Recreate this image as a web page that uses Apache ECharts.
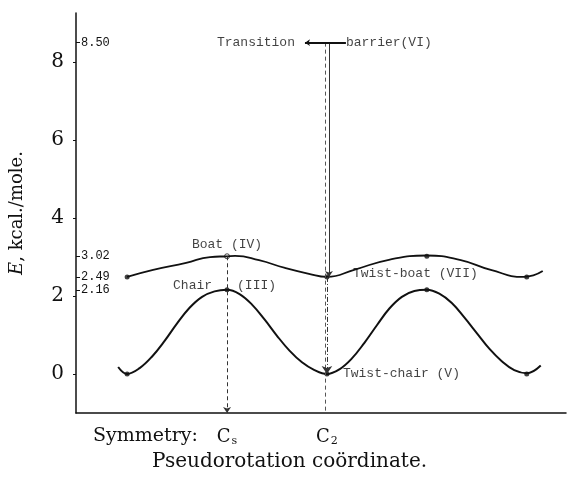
<!DOCTYPE html>
<html>
<head>
<meta charset="utf-8">
<script src="https://cdn.jsdelivr.net/npm/echarts@6/dist/echarts.min.js"></script>
<style>
  html, body { margin: 0; background: #fff; }
  #main { width: 567px; height: 479px; }
</style>
</head>
<body>
<div id="main"></div>
<script>
// pseudorotation coordinate (Cs = 1, C2 = 2) and energy, kcal/mole
var chairX = [-0.09, 0, 0.125, 0.25, 0.375, 0.5, 0.625, 0.75, 0.875, 1.0, 1.125, 1.25, 1.375, 1.5, 1.625, 1.75, 1.875, 2.0,
              2.125, 2.25, 2.375, 2.5, 2.625, 2.75, 2.875, 3.0, 3.125, 3.25, 3.375, 3.5, 3.625, 3.75, 3.875, 4.0, 4.14];
var chairE = [0.18, 0, 0.15, 0.45, 0.85, 1.3, 1.7, 1.98, 2.12, 2.16, 2.05, 1.78, 1.4, 0.98, 0.6, 0.3, 0.1, 0,
              0.12, 0.4, 0.8, 1.25, 1.68, 1.98, 2.13, 2.16, 2.06, 1.82, 1.45, 1.05, 0.65, 0.33, 0.1, 0.02, 0.22];
var boatX = [0, 0.26, 0.59, 0.83, 1.0, 1.08, 1.32, 1.58, 1.82, 2.0, 2.28, 2.62, 3.0, 3.34, 3.64, 3.97, 4.16];
var boatE = [2.49, 2.67, 2.85, 3.0, 3.02, 3.03, 2.92, 2.72, 2.57, 2.49, 2.68, 2.93, 3.04, 2.92, 2.67, 2.49, 2.64];
var markX = [0, 1, 2, 3, 4];
var chairMarkE = [0, 2.16, 0, 2.16, 0];
var boatMarkE = [2.49, 3.02, 2.49, 3.02, 2.49];
var barrierE = 8.5;
var barrierX = [1.78, 2.19];
var symX = [1, 2];
var symLabels = ['{c|C}{s|s}', '{c|C}{s|2}'];
var yTicks = [0, 2, 4, 6, 8];
var levelTicks = [8.5, 3.02, 2.49, 2.16];

var mono = '"Liberation Mono", "DejaVu Sans Mono", monospace';
var serif = '"DejaVu Serif", "Liberation Serif", serif';

function pts(xs, ys) {
  return xs.map(function (x, i) { return [x, ys[i]]; });
}

var chart = echarts.init(document.getElementById('main'));

var option = {
  animation: false,
  grid: { left: 73, right: 1, top: 13, bottom: 66 },
  xAxis: {
    type: 'value',
    min: -0.512,
    max: 4.393,
    splitLine: { show: false },
    axisLine: { onZero: false, lineStyle: { color: '#111', width: 1.5 } },
    axisTick: { show: false },
    axisLabel: {
      customValues: symX,
      margin: 14,
      formatter: function (v) { return symLabels[symX.indexOf(v)]; },
      rich: {
        c: { fontFamily: serif, fontSize: 18, color: '#111' },
        s: { fontFamily: serif, fontSize: 11, color: '#111', padding: [9, 0, 0, 1] }
      }
    }
  },
  yAxis: [{
    type: 'value',
    min: -1,
    max: 9.26,
    splitLine: { show: false },
    axisLine: { show: true, onZero: false, lineStyle: { color: '#111', width: 1.5 } },
    axisTick: { show: true, customValues: yTicks, length: 3, lineStyle: { color: '#111' } },
    axisLabel: { customValues: yTicks, margin: 12, fontFamily: serif, fontSize: 20, color: '#111' },
    name: '{i|E}, kcal./mole.',
    nameLocation: 'middle',
    nameRotate: 90,
    nameGap: 50,
    nameTextStyle: {
      fontFamily: serif, fontSize: 18, color: '#111',
      rich: { i: { fontFamily: serif, fontSize: 18, fontStyle: 'italic', color: '#111' } }
    }
  }, {
    type: 'value',
    min: -1,
    max: 9.26,
    position: 'left',
    splitLine: { show: false },
    axisLine: { show: false, onZero: false },
    axisTick: { show: true, inside: true, customValues: levelTicks, length: 4, lineStyle: { color: '#111' } },
    axisLabel: {
      inside: true, customValues: levelTicks, margin: 5,
      formatter: function (v) { return v.toFixed(2); },
      fontFamily: mono, fontSize: 12, color: '#111'
    }
  }],
  graphic: [
    { type: 'text', left: 93, top: 427, style: { text: 'Symmetry:', font: '19px ' + serif, fill: '#111' } },
    { type: 'text', left: 152, top: 452, style: { text: 'Pseudorotation coördinate.', font: '20px ' + serif, fill: '#111' } }
  ],
  series: [
    {
      name: 'chair',
      type: 'line',
      data: pts(chairX, chairE),
      smooth: 0.4,
      showSymbol: false,
      lineStyle: { color: '#111', width: 2 },
      silent: true
    },
    {
      name: 'boat',
      type: 'line',
      data: pts(boatX, boatE),
      smooth: 0.5,
      showSymbol: false,
      lineStyle: { color: '#111', width: 1.8 },
      silent: true
    },
    {
      name: 'guides',
      type: 'line',
      data: [],
      silent: true,
      markLine: {
        silent: true,
        label: { show: false },
        symbol: ['none', 'arrow'],
        symbolSize: 6,
        data: [
          [{ coord: [symX[0], boatMarkE[1]], lineStyle: { type: [4, 3], color: '#333', width: 1 } },
           { coord: [symX[0], -1] }],
          [{ coord: [symX[1] - 0.02, barrierE], lineStyle: { type: [4, 3], color: '#555', width: 1 } },
           { coord: [symX[1] - 0.02, -1], symbol: 'none' }],
          [{ coord: [symX[1] + 0.02, barrierE], lineStyle: { type: 'solid', color: '#333', width: 1 } },
           { coord: [symX[1] + 0.02, boatMarkE[2]] }],
          [{ coord: [symX[1], boatMarkE[2]], lineStyle: { type: [5, 2, 1, 2], color: '#333', width: 1 } },
           { coord: [symX[1], chairMarkE[2]], symbolSize: 8 }],
          [{ coord: [barrierX[1], barrierE], lineStyle: { type: 'solid', color: '#111', width: 2 } },
           { coord: [barrierX[0], barrierE], symbolSize: 5 }]
        ]
      }
    },
    {
      name: 'chairMarks',
      type: 'scatter',
      data: pts(markX, chairMarkE),
      symbol: 'circle',
      symbolSize: 5,
      itemStyle: { color: '#111' },
      silent: true
    },
    {
      name: 'boatMarks',
      type: 'scatter',
      data: pts(markX, boatMarkE).map(function (p, i) {
        return i === 1
          ? { value: p, itemStyle: { color: '#fff', borderColor: '#111', borderWidth: 1 } }
          : { value: p };
      }),
      symbol: 'circle',
      symbolSize: 5,
      itemStyle: { color: '#111' },
      silent: true
    },
    {
      name: 'notes',
      type: 'scatter',
      symbolSize: 0,
      silent: true,
      label: { show: true, fontFamily: mono, fontSize: 13, color: '#111' },
      data: [
        { value: [barrierX[0], barrierE], label: { formatter: 'Transition', position: 'left', distance: 10 } },
        { value: [barrierX[1], barrierE], label: { formatter: 'barrier(VI)', position: 'right', distance: 0 } },
        { value: [symX[0], boatMarkE[1]], label: { formatter: 'Boat (IV)', position: 'top', distance: 5 } },
        { value: [symX[0], chairMarkE[1]], label: { formatter: 'Chair', position: 'left', distance: 15, offset: [0, -4] } },
        { value: [symX[0], chairMarkE[1]], label: { formatter: '(III)', position: 'right', distance: 10, offset: [0, -4] } },
        { value: [symX[1], boatMarkE[2]], label: { formatter: 'Twist-boat (VII)', position: 'right', distance: 26, offset: [0, -3] } },
        { value: [symX[1], chairMarkE[2]], label: { formatter: 'Twist-chair (V)', position: 'right', distance: 16 } }
      ]
    }
  ]
};

chart.setOption(option);
</script>
</body>
</html>
